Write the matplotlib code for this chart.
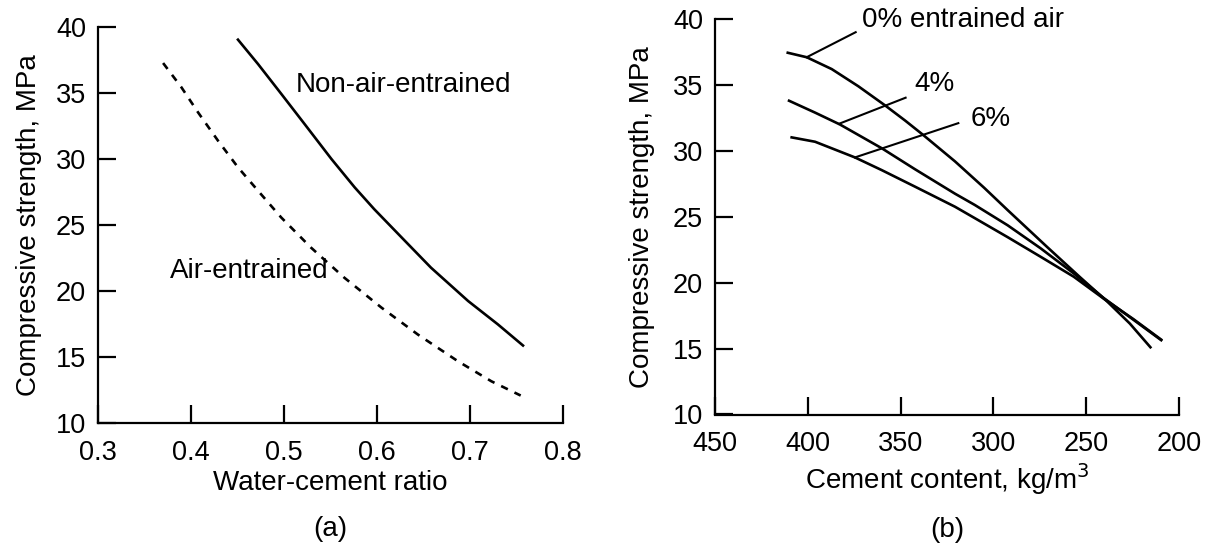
import matplotlib
matplotlib.use("Agg")
import matplotlib.pyplot as plt

plt.rcParams['font.family'] = ['Liberation Sans', 'DejaVu Sans']

# ---- Panel (a) data ----
wc_non_air = [0.4505, 0.472, 0.497, 0.522, 0.551, 0.576, 0.597, 0.630, 0.658, 0.698, 0.730, 0.757]
fc_non_air = [39.04, 37.2, 34.94, 32.66, 30.0, 27.85, 26.2, 23.8, 21.77, 19.24, 17.47, 15.87]
wc_air = [0.370, 0.3896, 0.4075, 0.429, 0.4505, 0.472, 0.497, 0.529, 0.565, 0.605, 0.644, 0.687, 0.723, 0.7545]
fc_air = [37.27, 35.44, 33.54, 31.39, 29.37, 27.6, 25.57, 23.29, 21.0, 18.73, 16.7, 14.68, 13.16, 12.08]

xticks_a = [0.3, 0.4, 0.5, 0.6, 0.7, 0.8]
xticklabels_a = ["0.3", "0.4", "0.5", "0.6", "0.7", "0.8"]
yticks = [10, 15, 20, 25, 30, 35, 40]

# ---- Panel (b) data ----
cem_0 = [410.8, 400.6, 387.1, 372.8, 358.4, 347.6, 337.8, 320.7, 305.0, 292.3, 271.0, 253.2, 238.9, 226.5, 215.4]
fc_0 = [37.44, 37.1, 36.2, 34.9, 33.45, 32.3, 31.2, 29.2, 27.2, 25.5, 22.7, 20.4, 18.6, 16.9, 15.1]
cem_4 = [410.1, 396.1, 382.7, 360.2, 342.2, 320.7, 310.1, 292.3, 274.5, 256.7, 240.7, 224.7, 209.6]
fc_4 = [33.8, 32.9, 32.0, 30.2, 28.6, 26.75, 25.9, 24.35, 22.6, 20.7, 18.85, 17.2, 15.64]
cem_6 = [408.7, 396.1, 374.6, 360.2, 342.2, 320.7, 310.1, 292.3, 274.5, 256.7, 240.7, 224.7, 209.6]
fc_6 = [31.02, 30.69, 29.5, 28.54, 27.28, 25.76, 24.9, 23.45, 21.96, 20.45, 18.8, 17.25, 15.68]

xticks_b = [450, 400, 350, 300, 250, 200]
xticklabels_b = ["450", "400", "350", "300", "250", "200"]

# leader lines (from curve point to label)
lead_0 = ([400.6, 374.2], [37.1, 39.0])
lead_4 = ([383.2, 347.3], [32.05, 34.03])
lead_6 = ([374.6, 318.9], [29.5, 32.1])

W, H = 1209, 548
fig = plt.figure(figsize=(W / 100, H / 100), dpi=100)

FS = 20
TFS = 19.5
LW = 1.9


def style(ax):
    ax.spines['top'].set_visible(False)
    ax.spines['right'].set_visible(False)
    ax.spines['left'].set_linewidth(1.6)
    ax.spines['bottom'].set_linewidth(1.6)
    ax.tick_params(direction='in', length=13, width=1.6, labelsize=TFS, pad=8.5)
    ax.tick_params(axis='x', pad=12)
    ax.set_ylim(10, 40)
    ax.set_yticks(yticks)
    ax.patch.set_alpha(0)


# ---- (a) ----
axa = fig.add_axes([98 / W, 1 - 423 / H, 465 / W, 396 / H])
style(axa)
axa.set_xlim(0.3, 0.8)
axa.set_xticks(xticks_a)
axa.set_xticklabels(xticklabels_a)
axa.plot(wc_non_air, fc_non_air, color='black', lw=LW)
axa.plot(wc_air, fc_air, color='black', lw=LW, linestyle=(0, (2.8, 2.8)))
axa.text(0.513, 35.57, "Non-air-entrained", fontsize=FS, va='center', ha='left')
axa.text(0.377, 21.5, "Air-entrained", fontsize=FS, va='center', ha='left')
axa.set_xlabel("Water-cement ratio", fontsize=FS, labelpad=3)
axa.set_ylabel("Compressive strength, MPa", fontsize=FS, labelpad=10)
fig.text(330.5 / W, 1 - 529 / H, "(a)", fontsize=FS, ha='center', va='center')

# ---- (b) ----
axb = fig.add_axes([715 / W, 1 - 414.5 / H, 464 / W, 395.5 / H])
style(axb)
axb.set_xlim(450, 200)
axb.set_xticks(xticks_b)
axb.set_xticklabels(xticklabels_b)
axb.plot(cem_0, fc_0, color='black', lw=LW)
axb.plot(cem_4, fc_4, color='black', lw=LW)
axb.plot(cem_6, fc_6, color='black', lw=LW)
axb.plot(*lead_0, color='black', lw=1.5)
axb.plot(*lead_4, color='black', lw=1.5)
axb.plot(*lead_6, color='black', lw=1.5)
axb.text(370.6, 39.9, "0% entrained air", fontsize=FS, va='center', ha='left', clip_on=False)
axb.text(342.6, 35.07, "4%", fontsize=FS, va='center', ha='left')
axb.text(312.5, 32.4, "6%", fontsize=FS, va='center', ha='left')
axb.set_xlabel("Cement content, kg/m$^3$", fontsize=FS, labelpad=3)
axb.set_ylabel("Compressive strength, MPa", fontsize=FS, labelpad=13)
fig.text(947 / W, 1 - 530 / H, "(b)", fontsize=FS, ha='center', va='center')

fig.savefig("out.png", dpi=100)
